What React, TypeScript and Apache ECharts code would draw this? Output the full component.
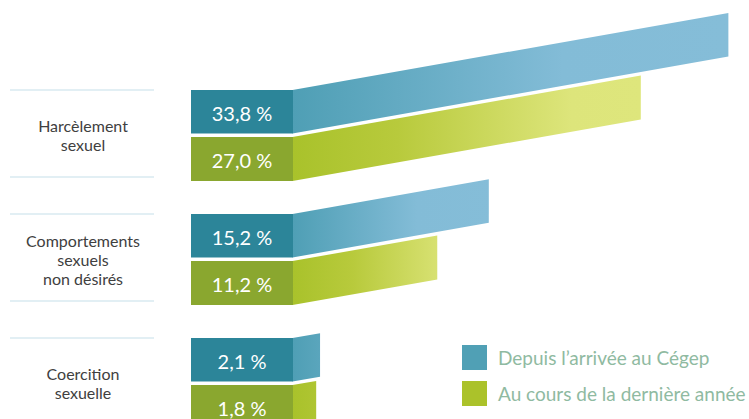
import React, { useEffect, useRef } from "react";
import * as echarts from "echarts";

const categories = [
  "Harcèlement\nsexuel",
  "Comportements\nsexuels\nnon désirés",
  "Coercition\nsexuelle",
];
const seriesNames = ["Depuis l’arrivée au Cégep", "Au cours de la dernière année"];
const depuisArrivee = [33.8, 15.2, 2.1];
const derniereAnnee = [27.0, 11.2, 1.8];

const boxColors = ["#2c8599", "#8aa72f"];
const legendColors = ["#50a0b5", "#abc22a"];
const ribbonStops = [
  [
    { offset: 0, color: "#4f9fb5" },
    { offset: 0.62, color: "#83bcd7" },
    { offset: 1, color: "#85bdd8" },
  ],
  [
    { offset: 0, color: "#a9c22b" },
    { offset: 0.3, color: "#b8ca3c" },
    { offset: 0.8, color: "#dde57b" },
    { offset: 1, color: "#dee67c" },
  ],
];

const fmt = (v: number) => v.toFixed(1).replace(".", ",") + " %";

function makeRenderItem(s: number) {
  return (params: any, api: any) => {
    const cat = api.value(0);
    const val = api.value(1);
    const [x0, yc] = api.coord([0, cat]);
    const xEnd = api.coord([val, cat])[0];
    const len = xEnd - x0;
    const dy = len * 0.177;
    const top = s === 0 ? yc - 45 : yc + 2;
    const bot = s === 0 ? yc - 1.5 : yc + 46;
    const boxW = 102;
    const children: any[] = [];
    if (s === 0) {
      children.push({
        type: "line",
        shape: { x1: x0 - 283, y1: yc - 45, x2: x0 - 139, y2: yc - 45 },
        style: { stroke: "#d8eaf1", lineWidth: 1.5 },
      });
      children.push({
        type: "line",
        shape: { x1: x0 - 283, y1: yc + 42, x2: x0 - 139, y2: yc + 42 },
        style: { stroke: "#d8eaf1", lineWidth: 1.5 },
      });
    }
    children.push({
      type: "polygon",
      shape: {
        points: [
          [x0 - 0.5, top],
          [xEnd, top - dy],
          [xEnd, bot - dy],
          [x0 - 0.5, bot],
        ],
      },
      style: {
        fill: new echarts.graphic.LinearGradient(
          x0,
          0,
          x0 + Math.max(len, 200),
          0,
          ribbonStops[s],
          true
        ),
      },
    });
    children.push({
      type: "rect",
      shape: { x: x0 - boxW, y: top, width: boxW, height: bot - top },
      style: { fill: boxColors[s] },
    });
    children.push({
      type: "text",
      style: {
        text: fmt(val),
        x: x0 - boxW / 2,
        y: (top + bot) / 2 + 1,
        align: "center",
        verticalAlign: "middle",
        fill: "#ffffff",
        fontSize: 20,
        fontFamily: "Lato",
      },
    });
    return { type: "group", children };
  };
}

export default function App() {
  const ref = useRef<HTMLDivElement>(null);
  useEffect(() => {
    if (!ref.current) return;
    const chart = echarts.init(ref.current, undefined, { renderer: "svg" });
    const datasets = [depuisArrivee, derniereAnnee];
    chart.setOption({
      animation: false,
      backgroundColor: "#ffffff",
      grid: { left: 293, top: 135, width: 456, height: 248 },
      xAxis: { type: "value", min: 0, max: 35.4, show: false },
      yAxis: {
        type: "category",
        data: categories,
        inverse: true,
        boundaryGap: false,
        axisLine: { show: false },
        axisTick: { show: false },
        splitLine: { show: false },
        axisLabel: {
          margin: 210,
          align: "center",
          verticalAlign: "middle",
          color: "#404040",
          fontSize: 16,
          lineHeight: 19,
          fontFamily: "Lato",
        },
      },
      legend: {
        orient: "vertical",
        left: 457,
        top: 340,
        itemWidth: 25,
        itemHeight: 25,
        itemGap: 11,
        icon: "rect",
        selectedMode: false,
        data: seriesNames,
        textStyle: {
          color: "#8fbaa1",
          fontSize: 19,
          fontFamily: "Lato",
          padding: [0, 0, 0, 6],
        },
      },
      series: seriesNames.map((name, s) => ({
        type: "custom",
        name,
        itemStyle: { color: legendColors[s] },
        encode: { x: 1, y: 0 },
        renderItem: makeRenderItem(s),
        data: datasets[s].map((v, i) => [i, v]),
        clip: false,
      })),
    });
    return () => chart.dispose();
  }, []);
  return (
    <div
      ref={ref}
      style={{ position: "absolute", left: 0, top: 0, width: 749, height: 419 }}
    />
  );
}
